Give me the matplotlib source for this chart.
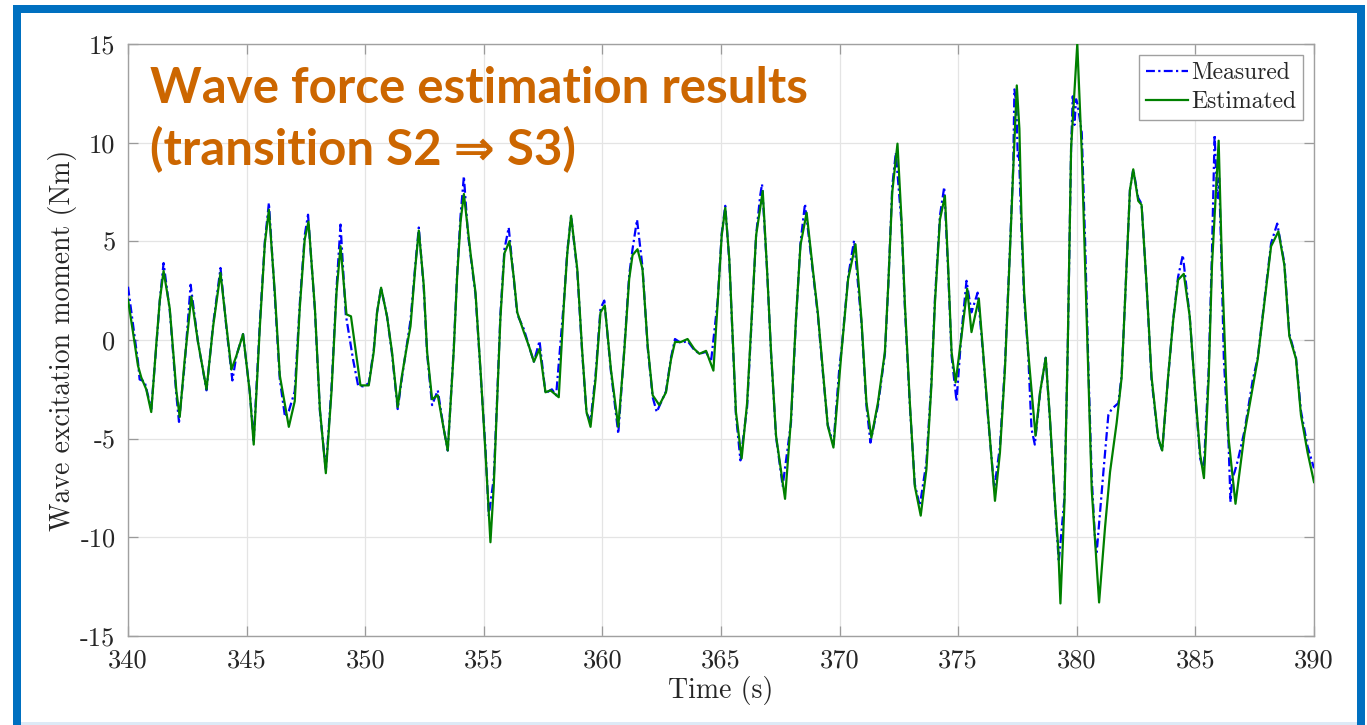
import matplotlib
matplotlib.use("Agg")
import matplotlib.pyplot as plt
from matplotlib.patches import Rectangle
from matplotlib.ticker import FuncFormatter

plt.rcParams["axes.unicode_minus"] = False
plt.rcParams["axes.formatter.use_mathtext"] = True

# ---- data: wave excitation moment (Nm) vs time (s) ----
t_measured = [
    340.00, 340.21, 340.42, 340.49, 340.70, 340.98, 341.20, 341.34, 341.50, 341.76,
    342.04, 342.15, 342.39, 342.64, 342.95, 343.31, 343.59, 343.90, 344.15, 344.40,
    344.57, 344.85, 345.13, 345.30, 345.56, 345.77, 345.94, 346.19, 346.40, 346.62,
    346.78, 347.03, 347.24, 347.45, 347.59, 347.88, 348.09, 348.34, 348.58, 348.79,
    348.96, 349.18, 349.49, 349.70, 349.90, 350.15, 350.36, 350.50, 350.67, 350.92,
    351.13, 351.37, 351.55, 351.76, 351.91, 352.12, 352.26, 352.47, 352.61, 352.82,
    353.06, 353.31, 353.48, 353.73, 353.87, 354.02, 354.16, 354.33, 354.44, 354.65,
    354.86, 355.07, 355.21, 355.42, 355.56, 355.70, 355.87, 356.05, 356.27, 356.41,
    356.69, 356.90, 357.11, 357.35, 357.60, 357.87, 358.05, 358.38, 358.52, 358.68,
    358.94, 359.15, 359.33, 359.50, 359.71, 359.92, 360.08, 360.36, 360.67, 360.92,
    361.13, 361.27, 361.46, 361.69, 361.91, 362.12, 362.29, 362.68, 362.89, 363.06,
    363.31, 363.59, 363.87, 364.09, 364.37, 364.58, 364.86, 365.03, 365.18, 365.35,
    365.49, 365.63, 365.82, 366.10, 366.29, 366.48, 366.65, 366.73, 366.94, 367.11,
    367.32, 367.60, 367.95, 368.16, 368.35, 368.54, 368.87, 369.08, 369.29, 369.50,
    369.74, 369.99, 370.08, 370.36, 370.61, 370.92, 371.13, 371.30, 371.62, 371.91,
    372.05, 372.22, 372.37, 372.61, 372.75, 372.96, 373.17, 373.38, 373.66, 373.87,
    374.02, 374.23, 374.41, 374.58, 374.72, 374.93, 375.14, 375.35, 375.56, 375.82,
    376.05, 376.27, 376.52, 376.76, 376.97, 377.18, 377.32, 377.37, 377.45, 377.51,
    377.56, 377.67, 377.78, 377.95, 378.09, 378.23, 378.45, 378.69, 378.87, 379.08,
    379.24, 379.48, 379.62, 379.76, 379.83, 379.90, 379.97, 380.04, 380.21, 380.35,
    380.49, 380.63, 380.77, 380.84, 381.12, 381.33, 381.47, 381.75, 381.89, 382.03,
    382.24, 382.38, 382.59, 382.73, 382.94, 383.15, 383.43, 383.60, 383.85, 384.06,
    384.27, 384.47, 384.76, 385.00, 385.20, 385.35, 385.56, 385.70, 385.81, 385.87,
    385.94, 386.00, 386.10, 386.20, 386.40, 386.48, 386.55, 386.65, 386.79, 387.07,
    387.42, 387.63, 387.91, 388.19, 388.45, 388.75, 388.96, 389.24, 389.45, 389.73,
    390.00,
]
measured = [
    2.7, 0.8, -1.1, -2.0, -2.1, -3.5, -0.2, 2.0, 3.9, 1.5,
    -2.8, -4.15, -1.2, 2.8, -0.1, -2.55, 0.8, 3.65, 0.6, -2.05,
    -0.8, 0.3, -2.6, -5.1, 0.9, 5.0, 6.95, 2.2, -2.0, -3.9,
    -3.6, -2.6, 1.8, 5.3, 6.35, 1.5, -3.6, -6.6, -2.4, 2.6,
    5.85, 1.3, -1.0, -2.3, -2.35, -2.2, -0.5, 1.4, 2.65, 1.2,
    -0.7, -3.5, -1.9, -0.2, 1.0, 3.9, 5.7, 2.6, -0.7, -3.3,
    -2.55, -4.5, -5.6, -0.5, 3.2, 6.3, 8.3, 5.4, 4.3, 2.3,
    -1.6, -5.5, -8.9, -7.0, -3.0, 1.3, 4.6, 5.7, 3.0, 1.3,
    0.55, -0.3, -1.1, -0.05, -2.7, -2.5, -2.8, 2.0, 4.5, 6.3,
    3.5, -0.7, -3.7, -4.1, -1.8, 1.6, 2.0, -1.6, -4.75, -0.5,
    3.3, 4.6, 6.1, 3.7, -0.4, -2.9, -3.65, -2.6, -0.9, 0.05,
    -0.15, -0.05, -0.5, -0.7, -0.6, -1.1, 2.0, 5.4, 6.8, 4.0,
    0.1, -3.8, -6.1, -3.4, 0.9, 5.3, 7.3, 7.9, 3.6, -0.7,
    -4.9, -7.4, -4.2, 1.0, 4.9, 6.9, 3.5, 1.3, -1.6, -4.3,
    -5.3, -1.4, -0.5, 3.2, 5.05, 0.9, -3.3, -5.2, -3.3, -0.7,
    2.7, 7.8, 9.5, 5.9, 1.7, -3.3, -7.3, -8.4, -6.2, -2.1,
    2.1, 6.3, 7.75, 3.4, -0.8, -3.1, 0.4, 3.0, 1.4, 2.4,
    -0.7, -4.1, -7.55, -5.4, -1.3, 4.6, 8.8, 12.7, 12.0, 9.3,
    9.5, 5.5, 2.1, -0.7, -4.5, -5.3, -2.7, -0.9, -4.1, -8.3,
    -11.25, -8.0, -0.25, 9.75, 12.35, 10.9, 12.2, 11.9, 10.5, 5.0,
    -1.5, -7.0, -10.1, -10.75, -6.7, -3.8, -3.5, -3.2, -1.8, 1.9,
    7.6, 8.65, 7.2, 6.9, 2.8, -2.0, -5.0, -5.6, -1.9, 1.0,
    3.2, 4.3, 1.2, -2.9, -6.0, -6.6, -1.5, 4.5, 10.4, 8.6,
    7.2, 8.2, 4.0, -1.0, -5.3, -8.2, -7.0, -6.7, -6.1, -4.6,
    -2.0, -0.9, 2.0, 4.9, 5.9, 3.9, 0.3, -0.9, -3.6, -5.4,
    -6.5,
]

t_estimated = [
    340.00, 340.21, 340.42, 340.56, 340.77, 340.98, 341.20, 341.34, 341.50, 341.76,
    342.04, 342.18, 342.39, 342.67, 342.95, 343.31, 343.59, 343.90, 344.15, 344.36,
    344.57, 344.85, 345.13, 345.30, 345.56, 345.77, 345.94, 346.19, 346.40, 346.78,
    347.03, 347.24, 347.45, 347.61, 347.88, 348.09, 348.34, 348.58, 348.79, 348.96,
    349.21, 349.40, 349.80, 350.15, 350.36, 350.50, 350.67, 350.92, 351.13, 351.37,
    351.55, 351.76, 351.91, 352.12, 352.26, 352.47, 352.61, 352.82, 353.06, 353.31,
    353.48, 353.73, 353.87, 354.02, 354.16, 354.44, 354.65, 354.86, 355.07, 355.28,
    355.42, 355.56, 355.70, 355.87, 356.08, 356.27, 356.41, 356.69, 356.90, 357.11,
    357.35, 357.60, 357.81, 358.16, 358.38, 358.52, 358.68, 358.94, 359.15, 359.33,
    359.50, 359.71, 359.92, 360.10, 360.36, 360.67, 360.92, 361.13, 361.27, 361.48,
    361.69, 361.91, 362.12, 362.40, 362.68, 362.89, 363.06, 363.31, 363.59, 363.87,
    364.09, 364.37, 364.68, 364.86, 365.03, 365.18, 365.35, 365.49, 365.63, 365.87,
    366.10, 366.29, 366.48, 366.76, 366.94, 367.11, 367.32, 367.70, 367.95, 368.16,
    368.35, 368.61, 368.87, 369.08, 369.29, 369.50, 369.74, 370.08, 370.36, 370.67,
    370.92, 371.13, 371.34, 371.62, 371.91, 372.05, 372.22, 372.44, 372.61, 372.75,
    372.96, 373.17, 373.42, 373.66, 373.87, 374.02, 374.23, 374.44, 374.58, 374.72,
    374.89, 375.14, 375.38, 375.56, 375.87, 376.05, 376.27, 376.55, 376.76, 376.97,
    377.18, 377.32, 377.47, 377.58, 377.67, 377.78, 377.95, 378.26, 378.45, 378.69,
    378.87, 379.08, 379.22, 379.31, 379.48, 379.62, 379.76, 380.02, 380.21, 380.35,
    380.49, 380.63, 380.94, 381.19, 381.40, 381.68, 381.89, 382.03, 382.24, 382.38,
    382.59, 382.73, 382.94, 383.15, 383.43, 383.60, 383.85, 384.06, 384.27, 384.51,
    384.76, 385.00, 385.20, 385.36, 385.56, 385.70, 385.98, 386.12, 386.29, 386.40,
    386.69, 387.07, 387.35, 387.63, 387.91, 388.19, 388.50, 388.75, 388.96, 389.24,
    389.45, 389.73, 390.00,
]
estimated = [
    2.05, 0.4, -1.3, -1.9, -2.5, -3.65, -0.1, 2.0, 3.5, 1.6,
    -2.6, -3.9, -1.0, 2.2, -0.1, -2.5, 0.7, 3.4, 0.7, -1.5,
    -0.8, 0.3, -2.6, -5.3, 0.7, 4.9, 6.6, 2.4, -1.8, -4.4,
    -3.1, 1.6, 5.1, 6.0, 1.6, -3.5, -6.75, -2.6, 2.4, 4.75,
    1.3, 1.2, -2.3, -2.3, -0.6, 1.4, 2.65, 1.2, -0.6, -3.4,
    -1.8, -0.3, 0.7, 3.8, 5.55, 2.75, -0.6, -3.0, -2.8, -4.5,
    -5.6, -0.6, 3.1, 6.0, 7.4, 4.4, 2.4, -1.5, -5.7, -10.25,
    -7.4, -3.2, 1.1, 4.4, 5.0, 3.1, 1.4, 0.4, -0.3, -1.1,
    -0.45, -2.65, -2.55, -2.9, 1.9, 4.4, 6.3, 3.6, -0.6, -3.65,
    -4.4, -2.0, 1.4, 1.75, -1.5, -4.4, -0.6, 3.1, 4.3, 4.6,
    3.6, -0.3, -2.8, -3.3, -2.65, -1.0, -0.1, -0.1, 0.05, -0.45,
    -0.7, -0.55, -1.55, 1.9, 5.3, 6.7, 4.1, 0.2, -3.65, -6.0,
    -3.2, 1.05, 5.3, 7.55, 3.6, -0.6, -4.85, -8.05, -4.0, 1.05,
    4.8, 6.45, 3.6, 1.4, -1.5, -4.35, -5.45, -0.6, 3.1, 4.85,
    1.05, -3.15, -4.95, -3.15, -0.6, 2.75, 7.5, 9.95, 6.1, 1.9,
    -3.15, -7.4, -8.9, -6.55, -2.3, 1.9, 6.1, 7.3, 3.6, -0.6,
    -2.15, 0.2, 2.6, 0.4, 2.1, -0.6, -4.0, -8.15, -5.7, -1.5,
    4.45, 8.65, 12.9, 10.7, 6.1, 2.4, -0.6, -4.85, -2.65, -0.9,
    -4.0, -8.2, -10.6, -13.35, -8.25, -0.25, 9.75, 15.0, 9.5, 3.8,
    -1.9, -7.6, -13.3, -9.5, -6.7, -4.2, -1.9, 1.9, 7.6, 8.65,
    7.05, 6.85, 2.85, -1.85, -4.95, -5.6, -1.85, 0.95, 3.05, 3.35,
    1.2, -2.8, -5.8, -7.0, -1.9, 3.8, 10.1, 3.8, -1.9, -5.0,
    -8.3, -4.75, -2.85, -0.95, 1.9, 4.75, 5.5, 3.8, 0.2, -0.95,
    -3.8, -5.7, -7.2,
]

x_ticks = [340, 345, 350, 355, 360, 365, 370, 375, 380, 385, 390]
y_ticks = [-15, -10, -5, 0, 5, 10, 15]

SERIF = "cmr10"
TEXT_DARK = "#262626"

W, H = 1367, 725
fig = plt.figure(figsize=(W / 100, H / 100), dpi=100)
fig.patch.set_facecolor("white")

ax = fig.add_axes([128 / W, 1 - 636 / H, (1314 - 128) / W, (636 - 44) / H])

ax.plot(t_measured, measured, color="#0000FF", lw=1.6, ls=(0, (4, 1.5, 1, 1.5)),
        label="Measured", zorder=3)
ax.plot(t_estimated, estimated, color="#008000", lw=1.6, ls="-",
        label="Estimated", zorder=4)

ax.set_xlim(x_ticks[0], x_ticks[-1])
ax.set_ylim(y_ticks[0], y_ticks[-1])
ax.set_xticks(x_ticks)
ax.set_yticks(y_ticks)
tick_fmt = FuncFormatter(lambda v, p: "%d" % v)
ax.xaxis.set_major_formatter(tick_fmt)
ax.yaxis.set_major_formatter(tick_fmt)

ax.grid(True, color="#E4E4E4", lw=0.9, zorder=0)
ax.set_axisbelow(True)
ax.tick_params(direction="in", top=True, right=True, length=7, width=0.9,
               color="#9A9A9A", labelsize=19, labelcolor=TEXT_DARK, pad=9)
for lab in ax.get_xticklabels() + ax.get_yticklabels():
    lab.set_family(SERIF)
for s in ax.spines.values():
    s.set_color("#A0A0A0")
    s.set_linewidth(1.0)

ax.set_xlabel("Time (s)", fontsize=20, color=TEXT_DARK, family=SERIF)
ax.set_ylabel("Wave excitation moment (Nm)", fontsize=20, color=TEXT_DARK, family=SERIF)
ax.xaxis.set_label_coords(0.5, -0.068)
ax.yaxis.set_label_coords(-0.043, 0.5)

leg = ax.legend(loc="upper right", prop={"family": SERIF, "size": 17},
                frameon=True, fancybox=False, edgecolor="#A0A0A0", framealpha=1,
                borderaxespad=0.45, handlelength=1.8, handletextpad=0.12,
                labelspacing=0.3, borderpad=0.3)
leg.get_frame().set_linewidth(1.0)
for txt in leg.get_texts():
    txt.set_color(TEXT_DARK)

# heading inside the plot area
title_color = "#CC6600"
title_font = ["Lato", "DejaVu Sans"]
fig.text(150 / W, 1 - 103 / H, "Wave force estimation results", fontsize=35.5,
         fontweight="bold", color=title_color, family=title_font, va="baseline")
fig.text(150 / W, 1 - 165 / H, "(transition S2 \u21d2 S3)", fontsize=35.5,
         fontweight="bold", color=title_color, family=title_font, va="baseline")

# slide-style blue frame
frame_blue = "#0070C0"
fig.add_artist(Rectangle((13 / W, 0), 8 / W, 1 - 5 / H, transform=fig.transFigure,
                         color=frame_blue, lw=0))
fig.add_artist(Rectangle((13 / W, 1 - 13 / H), (1365 - 13) / W, 8 / H,
                         transform=fig.transFigure, color=frame_blue, lw=0))
fig.add_artist(Rectangle((1357 / W, 0), 8 / W, 1 - 5 / H, transform=fig.transFigure,
                         color=frame_blue, lw=0))
fig.add_artist(Rectangle((21 / W, 0), (1357 - 21) / W, 3 / H, transform=fig.transFigure,
                         color="#DDEAF6", lw=0))

fig.savefig("out.png", dpi=100)
